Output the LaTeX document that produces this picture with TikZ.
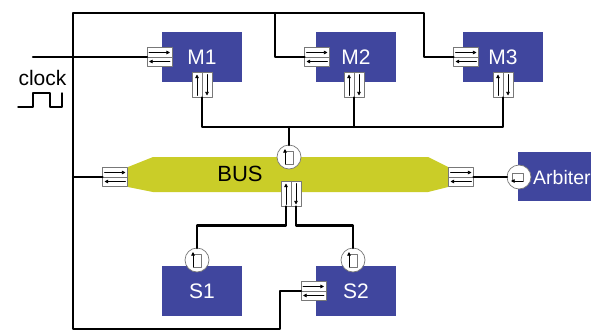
\documentclass[tikz,border=0pt]{standalone}
\usepackage{fontspec}
\setmainfont{Liberation Sans}
\usetikzlibrary{arrows.meta,calc}
\definecolor{unitblue}{RGB}{64,70,158}
\definecolor{busgreen}{RGB}{202,205,40}
\definecolor{portgray}{RGB}{120,120,120}

\begin{document}
\begin{tikzpicture}[x=1pt,y=-1pt,line cap=round,line join=round,
  unit/.style={fill=unitblue,text=white,minimum width=80pt,minimum height=50pt,
    inner sep=0pt,outer sep=0pt,font=\fontsize{21}{21}\selectfont},
  hport/.style={draw=portgray,fill=white,line width=0.7pt,minimum width=25pt,
    minimum height=19pt,inner sep=0pt,outer sep=0pt},
  vport/.style={hport,minimum width=20pt,minimum height=25pt},
  cport/.style={circle,draw=portgray,fill=white,line width=0.7pt,
    minimum size=24pt,inner sep=0pt,outer sep=0pt},
  wire/.style={line width=2.4pt},
  sig/.style={line width=0.7pt,-{Triangle[length=3.6pt,width=3.6pt]}}]
  \useasboundingbox (0,0) rectangle (591,332);

  % masters, slaves, arbiter
  \node[unit] (m1) at (202,57) {M1};
  \node[unit] (m2) at (356,57) {M2};
  \node[unit] (m3) at (503,57) {M3};
  \node[unit] (s1) at (202,291) {S1};
  \node[unit] (s2) at (356,291) {S2};
  \node[unit,minimum width=92pt,minimum height=49pt] (arb) at (564,176.5) {};
  \node[anchor=base west,text=white,font=\fontsize{19.5}{20}\selectfont,inner sep=0pt]
    (arblabel) at (533,184) {Arbiter};

  % bus
  \fill[busgreen] (128,167) -- (153,157) -- (428,157) -- (448,167)
    -- (448,187) -- (428,192) -- (153,192) -- (128,187) -- cycle;
  \node[font=\fontsize{22}{22}\selectfont] (bus) at (240,174) {BUS};

  % clock
  \node[anchor=base,font=\fontsize{21}{21}\selectfont,inner sep=0pt] (clock) at (42.5,85) {clock};
  \draw[line width=1.5pt] (18,107) -- (33,107) -- (33,93) -- (50,93)
    -- (50,107) -- (62,107) -- (62,93);

  % ports
  \node[hport] (pm1) at (159.5,57) {};
  \node[hport] (pm2) at (317,57) {};
  \node[hport] (pm3) at (466,57) {};
  \node[hport] (pbl) at (115,177) {};
  \node[hport] (pbr) at (461,177) {};
  \node[hport] (ps2) at (313.5,291) {};
  \node[vport] (qm1) at (202,85) {};
  \node[vport] (qm2) at (354,85) {};
  \node[vport] (qm3) at (503,85) {};
  \node[vport] (qb) at (291,194) {};
  \node[cport] (cb) at (289,157) {};
  \node[cport] (cs1) at (197,260) {};
  \node[cport] (cs2) at (353,260) {};
  \node[cport] (ca) at (519,177) {};

  \foreach \p in {pm1,pm2,pm3,pbl,pbr,ps2} {
    \draw[portgray,line width=0.5pt] (\p.west) -- (\p.east);
    \draw[sig] ($(\p)+(-10.5,-4.5)$) -- ($(\p)+(10.5,-4.5)$);
    \draw[sig] ($(\p)+(10.5,4.5)$) -- ($(\p)+(-10.5,4.5)$);
  }
  \foreach \p in {qm1,qm2,qm3,qb} {
    \draw[portgray,line width=0.5pt] (\p.north) -- (\p.south);
    \draw[sig] ($(\p)+(-5,10.5)$) -- ($(\p)+(-5,-10.5)$);
    \draw[sig] ($(\p)+(5,-10.5)$) -- ($(\p)+(5,10.5)$);
  }
  \foreach \c in {cb,cs1,cs2} {
    \draw[portgray,line width=0.6pt,fill=white] ($(\c)+(-4,-6)$) rectangle ($(\c)+(4,7)$);
    \draw[sig] ($(\c)+(-4,7)$) -- ($(\c)+(-4,-8)$);
  }
  \draw[portgray,line width=0.6pt,fill=white] ($(ca)+(-7,-4)$) rectangle ($(ca)+(4,4)$);
  \draw[sig] ($(ca)+(4,4)$) -- ($(ca)+(-8,4)$);

  % wires
  \coordinate (clk) at (33,57);
  \coordinate (tl) at (73,13);
  \coordinate (bl) at (73,329);
  \coordinate (mbus) at (289,127);
  \draw[wire] (ps2.west) -| (280,329) -- (bl) -- (tl) -| (424,57) -- (pm3.west);
  \draw[wire] (275,13) |- (pm2.west);
  \draw[wire] (clk) -- (pm1.west);
  \draw[wire] (73,177) -- (pbl.west);
  \draw[wire] (qm1.south) |- (mbus) -| (qm3.south);
  \draw[wire] (qm2.south) -- (qm2.south |- mbus);
  \draw[wire] (mbus) -- (cb.north);
  \draw[wire] (pbr.east) -- (ca.west);
  \draw[wire] ($(qb.south)+(-5,0)$) -- ++(0,19) -| (cs1.north);
  \draw[wire] ($(qb.south)+(5,0)$) -- ++(0,19) -| (cs2.north);
\end{tikzpicture}
\end{document}
